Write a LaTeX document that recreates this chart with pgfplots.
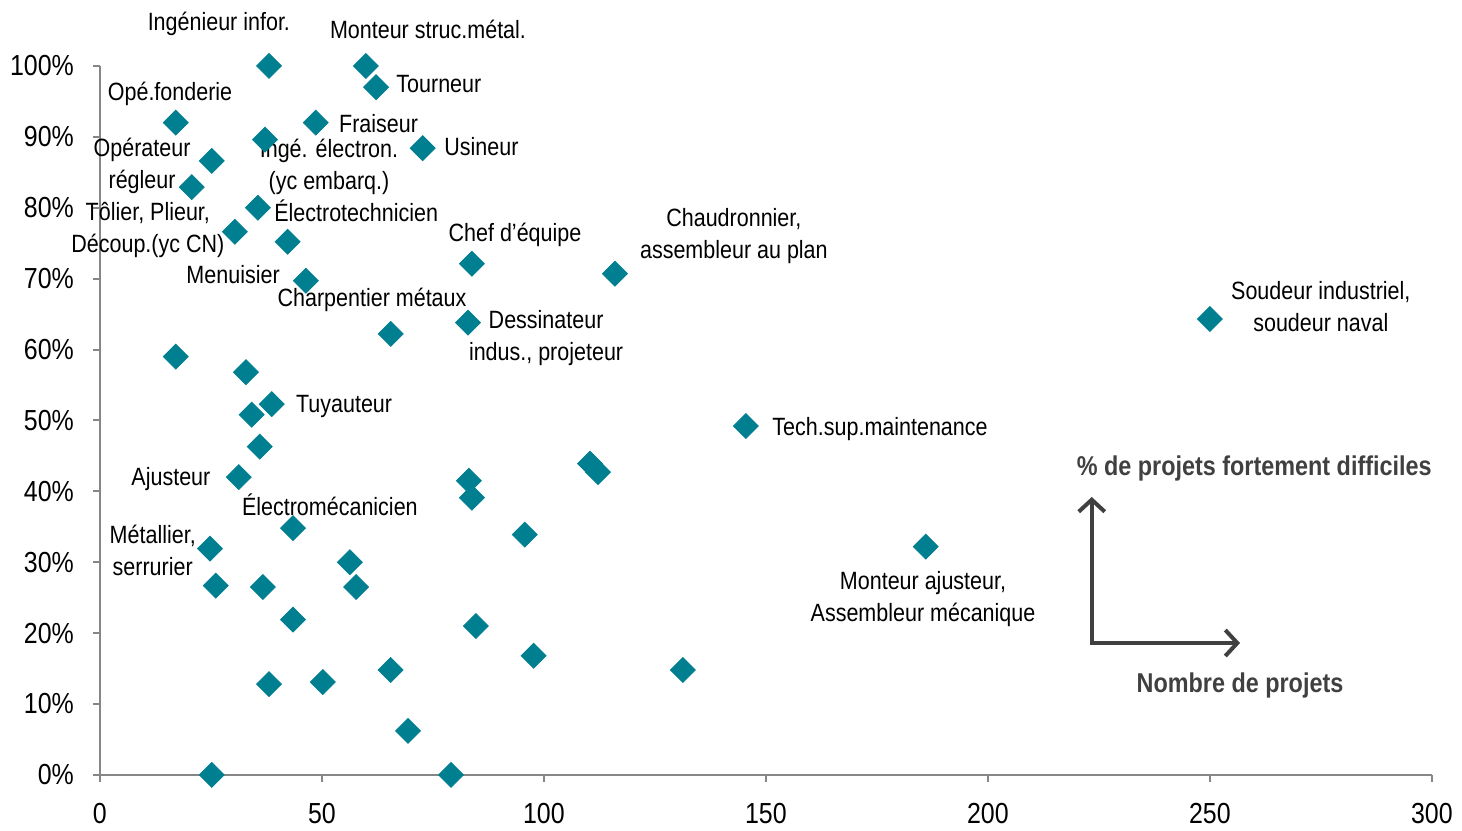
\documentclass[border=0pt]{standalone}
\usepackage{fontspec}
\setmainfont{Liberation Sans}[FakeStretch=0.86]
\usepackage{pgfplots}
\pgfplotsset{compat=1.18}
\usetikzlibrary{arrows.meta}
\definecolor{teal}{RGB}{0,127,145}
\definecolor{axisgray}{RGB}{134,134,134}
\definecolor{notegray}{RGB}{64,64,64}
\newcommand{\lbl}{\fontsize{12.5}{16}\selectfont}
\newcommand{\tkl}{\fontsize{14.5}{17}\selectfont}
\begin{document}
\begin{tikzpicture}
\begin{axis}[
    scale only axis,
    width=666pt, height=354.5pt,
    xmin=0, xmax=300, ymin=0, ymax=100,
    axis x line*=bottom, axis y line*=left,
    axis line style={axisgray, line width=1pt},
    xtick={0,50,...,300}, ytick={0,10,...,100},
    tick align=outside, major tick length=3.5pt,
    tick style={axisgray, line width=1pt},
    /pgf/number format/assume math mode=true,
    ticklabel style={font=\tkl},
    xticklabel style={yshift=-7pt},
    yticklabel style={xshift=-6pt},
    yticklabel={\pgfmathprintnumber{\tick}\%},
    clip=false,
]
\addplot[only marks, mark=square*, mark size=4.4pt,
    mark options={rotate=45, fill=teal, draw=teal}] coordinates {
    (38.1,100) (59.9,100) (62.2,97.0) (17.1,92.0) (48.6,92.0)
    (37.2,89.6) (72.7,88.4) (25.2,86.6) (20.7,82.9) (35.6,80.0)
    (30.4,76.6) (42.3,75.2) (46.4,69.7) (83.8,72.1) (116.0,70.7)
    (250.0,64.3) (82.9,63.8) (65.5,62.2) (17.1,59.0) (32.9,56.8)
    (38.7,52.3) (34.2,50.8) (36.0,46.3) (145.5,49.2) (31.3,42.0)
    (83.1,41.5) (83.8,39.1) (110.4,43.9) (112.2,42.7) (43.5,34.8)
    (95.7,33.9) (186.0,32.2) (24.8,31.9) (56.3,30.0) (26.1,26.7)
    (36.7,26.5) (57.7,26.5) (43.5,21.9) (84.7,21.0) (97.7,16.8)
    (131.3,14.8) (65.5,14.8) (38.1,12.8) (50.2,13.1) (69.4,6.2)
    (25.2,0) (79.1,0)
};
% point labels
\begin{scope}[every node/.style={font=\lbl, inner sep=0pt, align=center, yshift=-1pt}]
\node at (axis cs:26.8,106.2) {Ingénieur infor.};
\node at (axis cs:73.9,105.4) {Monteur struc.métal.};
\node[anchor=west] at (axis cs:66.7,97.7) {Tourneur};
\node at (axis cs:15.8,96.3) {Opé.fonderie};
\node[anchor=west] at (axis cs:53.8,92.1) {Fraiseur};
\node[anchor=west] at (axis cs:77.5,88.9) {Usineur};
\node at (axis cs:9.5,86.2) {Opérateur\\régleur};
\node at (axis cs:51.6,86.0) {Ingé. électron.\\(yc embarq.)};
\node[anchor=west] at (axis cs:39.2,79.8) {Électrotechnicien};
\node at (axis cs:10.8,77.2) {Tôlier, Plieur,\\Découp.(yc CN)};
\node at (axis cs:30.0,70.9) {Menuisier};
\node at (axis cs:61.3,67.3) {Charpentier métaux};
\node at (axis cs:93.5,76.4) {Chef d’équipe};
\node at (axis cs:142.8,76.3) {Chaudronnier,\\assembleur au plan};
\node at (axis cs:275.0,66.3) {Soudeur industriel,\\soudeur naval};
\node at (axis cs:100.5,61.9) {Dessinateur\\indus., projeteur};
\node[anchor=west] at (axis cs:44.1,52.3) {Tuyauteur};
\node[anchor=west] at (axis cs:151.4,49.1) {Tech.sup.maintenance};
\node at (axis cs:16.0,42.0) {Ajusteur};
\node at (axis cs:51.8,38.4) {Électromécanicien};
\node at (axis cs:11.9,32.0) {Métallier,\\serrurier};
\node at (axis cs:185.4,25.1) {Monteur ajusteur,\\Assembleur mécanique};
\end{scope}
% axis key
\draw[notegray, line width=2pt, {Straight Barb[length=6pt,width=13pt]}-{Straight Barb[length=6pt,width=13pt]}]
    (axis cs:223.4,39.2) -- (axis cs:223.4,18.6) -- (axis cs:256.8,18.6);
\node[font=\fontsize{13.6}{16}\selectfont\bfseries, text=notegray] at (axis cs:260.0,43.2) {\% de projets fortement difficiles};
\node[font=\fontsize{13.6}{16}\selectfont\bfseries, text=notegray] at (axis cs:256.8,12.6) {Nombre de projets};
\path (axis cs:-22.5,-7.33) rectangle (axis cs:306.8,109.3);
\end{axis}
\end{tikzpicture}
\end{document}
